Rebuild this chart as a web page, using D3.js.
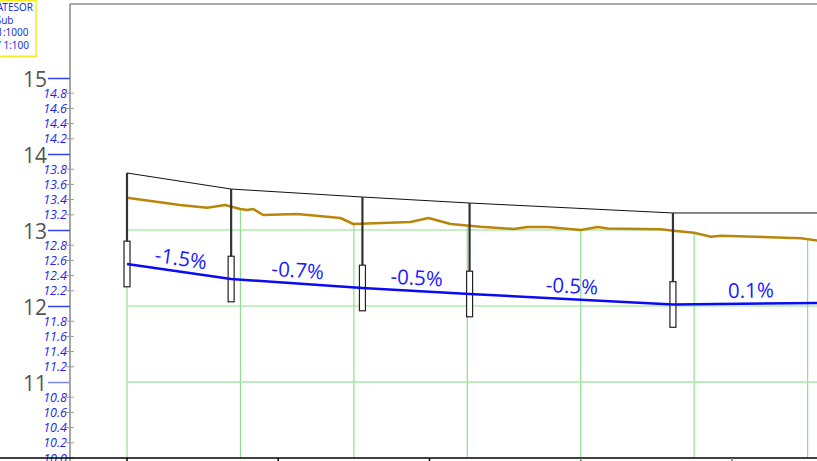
<!DOCTYPE html>
<html>
<head>
<meta charset="utf-8">
<script src="https://cdn.jsdelivr.net/npm/d3@7"></script>
<style>
  html, body { margin: 0; padding: 0; background: #fff; overflow: hidden; }
  svg { display: block; }
</style>
</head>
<body>
<svg id="chart" width="817" height="461"></svg>
<script>
// ---- data ----
// ground profile (distance m, elevation m)
const groundX = [0, 7.02, 10.60, 12.98, 14.97, 15.89, 16.69, 18.01, 22.52, 28.21, 29.93, 37.48, 39.87, 42.78, 46.75, 51.13, 52.98, 55.63, 60.0, 62.25, 63.58, 70.6, 72.3, 74.97, 77.22, 78.54, 89.14, 91.39, 93.0];
const groundZ = [13.425, 13.329, 13.293, 13.329, 13.276, 13.263, 13.276, 13.197, 13.211, 13.158, 13.079, 13.105, 13.158, 13.079, 13.043, 13.013, 13.039, 13.039, 13.0, 13.039, 13.020, 13.009, 12.991, 12.964, 12.912, 12.925, 12.891, 12.859, 12.84];
// manholes
const manholeX = [0, 13.77, 31.13, 45.30, 72.19, 92.85];
const coverZ   = [13.75, 13.539, 13.434, 13.355, 13.224, 13.224];
const invertZ  = [12.553, 12.355, 12.237, 12.158, 12.020, 12.041];
const slopeLabels = ["-1.5%", "-0.7%", "-0.5%", "-0.5%", "0.1%"];
// axes
const majorTicks = [15, 14, 13, 12, 11];
const majorLabels = ["15", "14", "13", "12", "11"];
const minorTicks = [14.8, 14.6, 14.4, 14.2, 13.8, 13.6, 13.4, 13.2, 12.8, 12.6, 12.4, 12.2, 11.8, 11.6, 11.4, 11.2, 10.8, 10.6, 10.4, 10.2, 10.0];
const minorLabels = ["14.8", "14.6", "14.4", "14.2", "13.8", "13.6", "13.4", "13.2", "12.8", "12.6", "12.4", "12.2", "11.8", "11.6", "11.4", "11.2", "10.8", "10.6", "10.4", "10.2", "10.0"];
const gridX = [0, 15, 30, 45, 60, 75, 90];
const gridZ = [13, 12, 11];
const xTicks = [0, 20, 40, 60, 80];
const legendLines = ["ATESOR", "Sub", "H 1:1000", "V 1:100"];

// ---- drawing ----
const svg = d3.select("#chart");
const W = 817, H = 461;
const x = d3.scaleLinear().domain([0, 80]).range([127, 732]);
const y = d3.scaleLinear().domain([10, 15]).range([458, 78]);
const axisX = 70, bottomY = 458;

// frame
svg.append("line").attr("x1", axisX).attr("x2", W).attr("y1", 4).attr("y2", 4)
  .attr("stroke", "#aaa").attr("stroke-width", 2);

// clip below ground
const groundPts = groundX.map((d, i) => [x(d), y(groundZ[i])]);
const clipPts = [[x(groundX[0]) - 2, y(groundZ[0])], ...groundPts,
  [x(groundX[groundX.length - 1]), bottomY], [x(groundX[0]) - 2, bottomY]];
svg.append("clipPath").attr("id", "below")
  .append("polygon").attr("points", clipPts.map(p => p.join(",")).join(" "));

const grid = svg.append("g").attr("clip-path", "url(#below)");
grid.selectAll("line.gx").data(gridX).join("line").attr("class", "gx")
  .attr("x1", d => x(d)).attr("x2", d => x(d))
  .attr("y1", 0).attr("y2", bottomY)
  .attr("stroke", "#8ee08e").attr("stroke-width", 1.2);
grid.selectAll("line.gz").data(gridZ).join("line").attr("class", "gz")
  .attr("x1", x(0)).attr("x2", W + 100)
  .attr("y1", d => y(d)).attr("y2", d => y(d))
  .attr("stroke", (d, i) => i === 2 ? "#a8e6a8" : "#8ee08e")
  .attr("stroke-width", (d, i) => i === 2 ? 1.6 : 1.2);

// y axis
svg.append("line").attr("x1", axisX).attr("x2", axisX).attr("y1", 4).attr("y2", H)
  .attr("stroke", "#888").attr("stroke-width", 1.5);
svg.selectAll("line.mt").data(minorTicks).join("line").attr("class", "mt")
  .attr("x1", 66).attr("x2", 74).attr("y1", d => y(d)).attr("y2", d => y(d))
  .attr("stroke", "#999").attr("stroke-width", 1);
svg.selectAll("text.ml").data(minorTicks).join("text").attr("class", "ml")
  .attr("x", 67).attr("y", d => y(d)).attr("dy", "0.36em")
  .attr("text-anchor", "end")
  .attr("font-family", "'Open Sans', sans-serif").attr("font-style", "italic")
  .attr("font-size", 12.5).attr("fill", "#1f1ff0")
  .text((d, i) => minorLabels[i]);
svg.selectAll("line.Mt").data(majorTicks).join("line").attr("class", "Mt")
  .attr("x1", 48).attr("x2", axisX).attr("y1", d => y(d) + 0.5).attr("y2", d => y(d) + 0.5)
  .attr("stroke", (d, i) => i === 4 ? "#7a86f0" : "#3344ee").attr("stroke-width", 1.5);
svg.selectAll("text.Ml").data(majorTicks).join("text").attr("class", "Ml")
  .attr("x", 47).attr("y", d => y(d) + 2).attr("dy", "0.35em")
  .attr("text-anchor", "end")
  .attr("font-family", "'Open Sans', sans-serif")
  .attr("font-size", 21).attr("fill", "#555")
  .text((d, i) => majorLabels[i]);

// bottom axis
svg.append("line").attr("x1", 0).attr("x2", W).attr("y1", bottomY).attr("y2", bottomY)
  .attr("stroke", "#000").attr("stroke-width", 1.5);
svg.selectAll("line.xt").data(xTicks).join("line").attr("class", "xt")
  .attr("x1", d => x(d)).attr("x2", d => x(d)).attr("y1", bottomY).attr("y2", H)
  .attr("stroke", (d, i) => i >= 3 ? "#777" : "#000").attr("stroke-width", 1.5);

// ground line
const line = d3.line().x(d => d[0]).y(d => d[1]);
svg.append("path").attr("d", line(groundPts))
  .attr("fill", "none").attr("stroke", "#b8860b").attr("stroke-width", 2.5)
  .attr("stroke-linejoin", "round");

// cover line
const coverPts = manholeX.map((d, i) => [x(d), y(coverZ[i])]);
svg.append("path").attr("d", line(coverPts))
  .attr("fill", "none").attr("stroke", "#111").attr("stroke-width", 1);

// manholes
const half = 0.3;
const mh = svg.selectAll("g.mh").data(manholeX).join("g").attr("class", "mh");
mh.append("line")
  .attr("x1", d => x(d)).attr("x2", d => x(d))
  .attr("y1", (d, i) => y(coverZ[i])).attr("y2", (d, i) => y(invertZ[i] + half))
  .attr("stroke", "#333").attr("stroke-width", 2.2);
mh.append("rect")
  .attr("x", d => x(d) - 3).attr("width", 6)
  .attr("y", (d, i) => y(invertZ[i] + half))
  .attr("height", (d, i) => y(invertZ[i] - half) - y(invertZ[i] + half))
  .attr("fill", "#fff").attr("stroke", "#222").attr("stroke-width", 1.2);

// pipe
const pipePts = manholeX.map((d, i) => [x(d), y(invertZ[i])]);
svg.append("path").attr("d", line(pipePts))
  .attr("fill", "none").attr("stroke", "#0a0af5").attr("stroke-width", 2.5);

// slope labels
svg.selectAll("text.sl").data(slopeLabels).join("text").attr("class", "sl")
  .attr("transform", (d, i) => {
    const x0 = x(manholeX[i]), x1 = x(manholeX[i + 1]);
    const y0 = y(invertZ[i]), y1 = y(invertZ[i + 1]);
    const a = Math.atan2(y1 - y0, x1 - x0) * 180 / Math.PI;
    return `translate(${(x0 + x1) / 2},${(y0 + y1) / 2}) rotate(${a}) translate(0,-6)`;
  })
  .attr("text-anchor", "middle")
  .attr("font-family", "'Open Sans', sans-serif")
  .attr("font-size", 20.5).attr("fill", "#1a1aff")
  .text(d => d);

// legend box (cut off at left)
svg.append("rect").attr("x", -5).attr("y", 0.75).attr("width", 41).attr("height", 55.5)
  .attr("fill", "#fff").attr("stroke", "#f2ee20").attr("stroke-width", 1.5);
const legRight = [33, 13.5, 28.5, 29];
const legBase = [10.5, 23.5, 36, 48.5];
svg.selectAll("text.lg").data(legendLines).join("text").attr("class", "lg")
  .attr("x", (d, i) => legRight[i]).attr("y", (d, i) => legBase[i])
  .attr("text-anchor", "end")
  .attr("font-family", "'Noto Sans', sans-serif")
  .attr("font-size", 10).attr("fill", "#2233dd")
  .text(d => d);
</script>
</body>
</html>
